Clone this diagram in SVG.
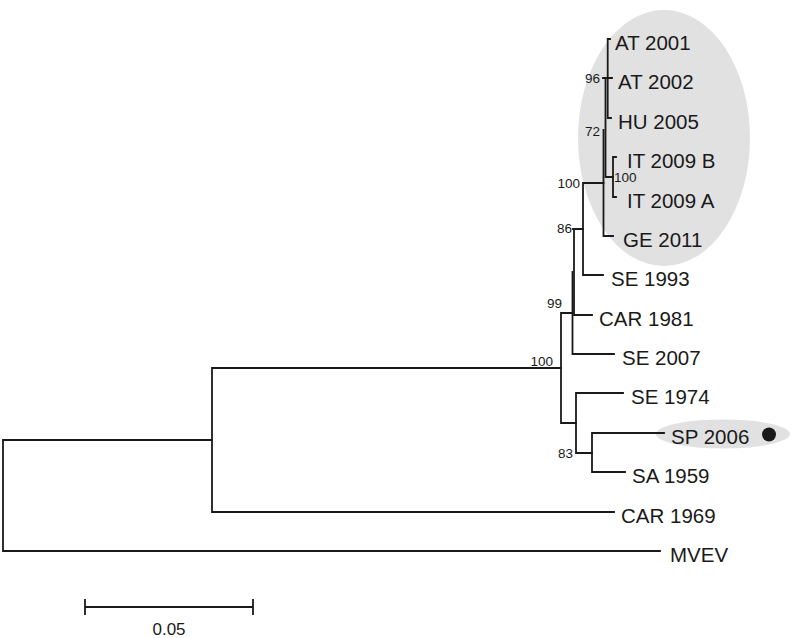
<svg xmlns="http://www.w3.org/2000/svg" width="792" height="638" viewBox="0 0 792 638">
<style>
.br{fill:none;stroke:#1a1a1a;stroke-width:1.8;stroke-linecap:square}
.lf{font-family:"Liberation Sans",Arial,sans-serif;font-size:20.5px;fill:#1a1a1a}
.bs{font-family:"Liberation Sans",Arial,sans-serif;font-size:13.5px;fill:#1a1a1a}
.hl{fill:#e1e1e1}
</style>
<rect width="792" height="638" fill="#ffffff"/>
<g id="highlights">
<ellipse class="hl" cx="664" cy="138" rx="86" ry="128"/>
<ellipse class="hl" cx="723" cy="434" rx="67" ry="14.5"/>
</g>
<g id="connectors">
<path class="br" d="M3,440 V551 M3,440 H212 M3,551 H660"/>
<path class="br" d="M212,368 V512 M212,368 H561 M212,512 H614"/>
<path class="br" d="M561,313 V423 M561,313 H572.5 M561,423 H576"/>
<path class="br" d="M572.5,272 V354 M572.5,354 H614"/>
<path class="br" d="M574,229 V315 M574,315 H592 M573,229 H583"/>
<path class="br" d="M583,183 V275 M583,183 H603.5 M583,275 H603"/>
<path class="br" d="M603.5,130 V236 M603.5,236 H613"/>
<path class="br" d="M605.5,78 V177 M605.5,177 H613"/>
<path class="br" d="M613,157 V197 M613,157 H616 M613,197 H616"/>
<path class="br" d="M607.7,39 V118 M607.7,39 H610 M603,78 H612 M607.7,118 H611"/>
<path class="br" d="M576,393 V453 M576,393 H623 M576,453 H592"/>
<path class="br" d="M592,433 V472 M592,433 H664 M592,472 H625"/>
<path class="br" d="M85,607 H253 M85,600 V614 M253,600 V614"/>
</g>
<g id="bootstrap">
<text class="bs" x="600" y="83" text-anchor="end">96</text>
<text class="bs" x="600" y="136" text-anchor="end">72</text>
<text class="bs" x="614" y="182">100</text>
<text class="bs" x="580" y="188" text-anchor="end">100</text>
<text class="bs" x="572" y="233" text-anchor="end">86</text>
<text class="bs" x="562" y="308" text-anchor="end">99</text>
<text class="bs" x="553" y="366" text-anchor="end">100</text>
<text class="bs" x="573" y="458" text-anchor="end">83</text>
</g>
<g id="AT2001"><text class="lf" x="615" y="50">AT 2001</text></g>
<g id="AT2002"><text class="lf" x="618" y="89">AT 2002</text></g>
<g id="HU2005"><text class="lf" x="618" y="129">HU 2005</text></g>
<g id="IT2009B"><text class="lf" x="627" y="168">IT 2009 B</text></g>
<g id="IT2009A"><text class="lf" x="627" y="208">IT 2009 A</text></g>
<g id="GE2011"><text class="lf" x="623" y="247">GE 2011</text></g>
<g id="SE1993"><text class="lf" x="611" y="286">SE 1993</text></g>
<g id="CAR1981"><text class="lf" x="599" y="326">CAR 1981</text></g>
<g id="SE2007"><text class="lf" x="622" y="365">SE 2007</text></g>
<g id="SE1974"><text class="lf" x="631" y="404">SE 1974</text></g>
<g id="SP2006"><text class="lf" x="671" y="444">SP 2006</text><circle cx="769" cy="434.5" r="7" fill="#1a1a1a"/></g>
<g id="SA1959"><text class="lf" x="632" y="483">SA 1959</text></g>
<g id="CAR1969"><text class="lf" x="621" y="523">CAR 1969</text></g>
<g id="MVEV"><text class="lf" x="670" y="562">MVEV</text></g>
<g id="scale"><text class="bs" x="169" y="635" text-anchor="middle" style="font-size:17px">0.05</text></g>
</svg>
